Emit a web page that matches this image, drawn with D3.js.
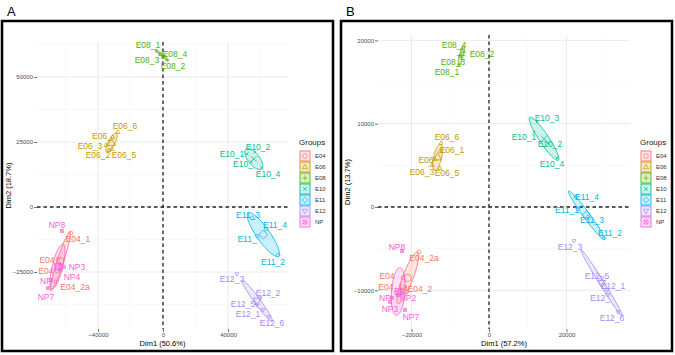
<!DOCTYPE html>
<html>
<head>
<meta charset="utf-8">
<script src="https://cdnjs.cloudflare.com/ajax/libs/d3/7.8.5/d3.min.js"></script>
<style>
body { margin: 0; background: #fff; }
svg { display: block; font-family: "Liberation Sans", Arial, sans-serif; }
</style>
</head>
<body>
<svg id="chart" width="675" height="355"></svg>
<script>
var groups = ["E04", "E06", "E08", "E10", "E11", "E12", "NP"];
var groupColors = ["#F8766D", "#C49A00", "#53B400", "#00C094", "#00B6EB", "#A58AFF", "#FB61D7"];
var groupShapes = ["circle", "triangle", "plus", "cross", "diamond", "triangleDown", "squareCross"];

var samples = ["E04_1", "E04_1a", "E04_2", "E04_2a",
  "E06_1", "E06_2", "E06_3", "E06_5", "E06_6",
  "E08_1", "E08_2", "E08_3", "E08_4",
  "E10_1", "E10_2", "E10_3", "E10_4",
  "E11_1", "E11_2", "E11_3", "E11_4",
  "E12_1", "E12_2", "E12_3", "E12_5", "E12_6",
  "NP1", "NP2", "NP3", "NP4", "NP7", "NP8"];

// panel A
var dim1A = [-56600, -64600, -65200, -65800,
  -30800, -33200, -35100, -31400, -27700,
  -4000, 2500, -2000, 1000,
  51700, 56600, 54200, 60900,
  57800, 70800, 54800, 63400,
  61500, 59700, 45500, 57800, 65200,
  -69000, -63500, -61000, -63000, -70800, -62200];
var dim2A = [-10000, -20000, -24600, -28800,
  26900, 21900, 23800, 22300, 28800,
  60000, 56500, 59000, 58000,
  20400, 21200, 17300, 15000,
  -11200, -18500, -4200, -8500,
  -39600, -35000, -25800, -37700, -42300,
  -28100, -22000, -23000, -24000, -31200, -9200];
var labelA = ["E04_1", "E04", "E04", "E04_2a",
  "E06_", "E06_2", "E06_3", "E06_5", "E06_6",
  "E08_1", "E08_2", "E08_3", "E08_4",
  "E10_1", "E10_2", "E10_", "E10_4",
  "E11_", "E11_2", "E11_3", "E11_4",
  "E12_1", "E12_2", "E12_3", "E12_5", "E12_6",
  "NP", "", "NP3", "NP4", "NP7", "NP8"];
var labelDim1A = [-52310, -71380, -72000, -54150,
  -37540, -40000, -44920, -24000, -23390,
  -9230, 6150, -9850, 7380,
  42460, 58460, 49230, 64620,
  51690, 67690, 52310, 68920,
  52310, 64620, 42460, 49230, 67080,
  -72000, -63500, -52920, -56000, -72000, -65230];
var labelDim2A = [-12310, -20380, -24620, -30770,
  27310, 20000, 23460, 20000, 31150,
  62300, 54230, 56540, 58850,
  20380, 23080, 16540, 12690,
  -12310, -21150, -3080, -6920,
  -41150, -33080, -27690, -37310, -44620,
  -28460, -22000, -23080, -26920, -34620, -6920];
var xTicksA = [-40000, 0, 40000];
var yTicksA = [-25000, 0, 25000, 50000];
var xExtentA = [-77500, 76900];
var yExtentA = [-46920, 63460];

// panel B
var dim1B = [-22190, -22450, -21160, -18060,
  -12650, -13940, -14710, -12650, -12390,
  -7740, -6450, -7480, -6970,
  11610, 15230, 12390, 17550,
  22970, 29680, 25550, 22450,
  30460, 30710, 21940, 29170, 33300,
  -25030, -22450, -25550, -23500, -21680, -22450];
var dim2B = [-8520, -9960, -10200, -5400,
  6720, 5760, 5040, 4680, 7680,
  17050, 18600, 18130, 18970,
  9000, 7680, 10200, 5880,
  -240, -3720, -1200, 1200,
  -9960, -10560, -4080, -8520, -12600,
  -10920, -10320, -11400, -10600, -12360, -5280];
var labelB = ["E04", "E04_1a", "E04_2", "E04_2a",
  "E06_1", "E06", "E06_3", "E06_5", "E06_6",
  "E08_1", "E08_2", "E08_3", "E08_4",
  "E10_1", "E10_2", "E10_3", "E10_4",
  "E11_1", "E11_2", "E11_3", "E11_4",
  "E12_1", "E12_", "E12_3", "E12_5", "E12_6",
  "NP", "NP2", "NP3", "", "NP7", "NP8"];
var labelDim1B = [-26330, -24780, -17810, -16780,
  -9550, -16260, -17290, -10840, -10840,
  -10840, -1810, -9290, -9030,
  9030, 15740, 14970, 16260,
  20130, 31230, 26580, 25290,
  32000, 28650, 20910, 27870, 31750,
  -26840, -20910, -25550, -23500, -20130, -23750];
var labelDim2B = [-8280, -9600, -9840, -6120,
  6840, 5640, 4200, 4080, 8400,
  16210, 18370, 17410, 19450,
  8400, 7560, 10680, 5160,
  -360, -3120, -1560, 1200,
  -9480, -10920, -4800, -8280, -13330,
  -10920, -10920, -12250, -10600, -13210, -4800];
var xTicksB = [-20000, 0, 20000];
var yTicksB = [-10000, 0, 10000, 20000];
var xExtentB = [-28650, 36390];
var yExtentB = [-14650, 20650];

var svg = d3.select("#chart");

function groupOf(name) {
  return name.split("_")[0].indexOf("NP") === 0 ? "NP" : name.split("_")[0];
}

function shapePath(type, r) {
  var p = d3.path();
  if (type == "circle") {
    p.arc(0, 0, r, 0, 2 * Math.PI);
  } else if (type == "triangle" || type == "triangleDown") {
    var s = type == "triangle" ? 1 : -1;
    p.moveTo(0, -s * r * 1.2);
    p.lineTo(r * 1.1, s * r * 0.75);
    p.lineTo(-r * 1.1, s * r * 0.75);
    p.closePath();
  } else if (type == "plus") {
    p.moveTo(-r * 1.1, 0); p.lineTo(r * 1.1, 0);
    p.moveTo(0, -r * 1.1); p.lineTo(0, r * 1.1);
  } else if (type == "cross") {
    p.moveTo(-r * 0.8, -r * 0.8); p.lineTo(r * 0.8, r * 0.8);
    p.moveTo(-r * 0.8, r * 0.8); p.lineTo(r * 0.8, -r * 0.8);
  } else if (type == "diamond") {
    p.moveTo(0, -r * 1.2); p.lineTo(r * 1.2, 0);
    p.lineTo(0, r * 1.2); p.lineTo(-r * 1.2, 0);
    p.closePath();
  } else {
    var q = r * 0.85;
    p.rect(-q, -q, 2 * q, 2 * q);
    p.moveTo(-q, -q); p.lineTo(q, q);
    p.moveTo(-q, q); p.lineTo(q, -q);
  }
  return p.toString();
}

// confidence ellipse around the group mean
function ellipsePoints(xs, ys) {
  var n = xs.length;
  var mx = d3.mean(xs), my = d3.mean(ys);
  var sxx = d3.sum(xs, function(v) { return (v - mx) * (v - mx); }) / (n - 1);
  var syy = d3.sum(ys, function(v) { return (v - my) * (v - my); }) / (n - 1);
  var sxy = d3.sum(xs, function(v, i) { return (v - mx) * (ys[i] - my); }) / (n - 1);
  var a = Math.sqrt(sxx), b = sxy / a, d = Math.sqrt(Math.max(syy - b * b, 0));
  var r = 1.15 * Math.sqrt(5.991 / n);
  return d3.range(0, 121).map(function(i) {
    var t = 2 * Math.PI * i / 120;
    return [mx + r * a * Math.cos(t), my + r * (b * Math.cos(t) + d * Math.sin(t))];
  });
}

function minorTicks(ticks, extent) {
  var step = ticks[1] - ticks[0], out = [];
  for (var v = ticks[0] - step / 2; v >= extent[0]; v -= step) out.push(v);
  for (var w = ticks[0] + step / 2; w <= extent[1]; w += step) out.push(w);
  return out;
}

function drawPanel(cfg) {
  var x = d3.scaleLinear().domain(cfg.xExtent).range([cfg.left, cfg.right]);
  var y = d3.scaleLinear().domain(cfg.yExtent).range([cfg.bottom, cfg.top]);
  var g = svg.append("g");

  // outer frame and panel letter
  g.append("rect")
    .attr("x", cfg.frame[0]).attr("y", cfg.frame[1])
    .attr("width", cfg.frame[2]).attr("height", cfg.frame[3])
    .style("fill", "none").style("stroke", "#000").style("stroke-width", 2.5);
  g.append("text").attr("x", cfg.frame[0] + 5).attr("y", 16)
    .style("font-size", "13px").text(cfg.letter);

  // grid
  g.selectAll("line.vminor").data(minorTicks(cfg.xTicks, cfg.xExtent)).enter().append("line")
    .attr("x1", x).attr("x2", x).attr("y1", cfg.top).attr("y2", cfg.bottom)
    .style("stroke", "#f2f2f2").style("stroke-width", 0.5);
  g.selectAll("line.hminor").data(minorTicks(cfg.yTicks, cfg.yExtent)).enter().append("line")
    .attr("y1", y).attr("y2", y).attr("x1", cfg.left).attr("x2", cfg.right)
    .style("stroke", "#f2f2f2").style("stroke-width", 0.5);
  g.selectAll("line.vmajor").data(cfg.xTicks).enter().append("line")
    .attr("x1", x).attr("x2", x).attr("y1", cfg.top).attr("y2", cfg.bottom)
    .style("stroke", "#e6e6e6").style("stroke-width", 0.8);
  g.selectAll("line.hmajor").data(cfg.yTicks).enter().append("line")
    .attr("y1", y).attr("y2", y).attr("x1", cfg.left).attr("x2", cfg.right)
    .style("stroke", "#e6e6e6").style("stroke-width", 0.8);

  // axes
  var xAxis = g.append("g").attr("transform", "translate(0," + cfg.bottom + ")")
    .call(d3.axisBottom(x).tickValues(cfg.xTicks).tickSize(3).tickPadding(1).tickFormat(d3.format("d")));
  var yAxis = g.append("g").attr("transform", "translate(" + cfg.left + ",0)")
    .call(d3.axisLeft(y).tickValues(cfg.yTicks).tickSize(3).tickPadding(1).tickFormat(d3.format("d")));
  [xAxis, yAxis].forEach(function(ax) {
    ax.select(".domain").remove();
    ax.selectAll("line").style("stroke", "#333").style("stroke-width", 0.7);
    ax.selectAll("text").style("font-size", "6px").style("fill", "#4d4d4d")
      .style("font-family", "\"Liberation Sans\", Arial, sans-serif");
  });

  g.append("text").attr("x", (cfg.left + cfg.right) / 2).attr("y", 346)
    .attr("text-anchor", "middle").style("font-size", "7.5px").text(cfg.xTitle);
  g.append("text")
    .attr("transform", "translate(" + (cfg.frame[0] + 9) + "," + ((cfg.top + cfg.bottom) / 2) + ") rotate(-90)")
    .attr("text-anchor", "middle").style("font-size", "7.5px").text(cfg.yTitle);

  // zero lines
  g.append("line").attr("x1", x(0)).attr("x2", x(0)).attr("y1", cfg.top).attr("y2", cfg.bottom)
    .style("stroke", "#222").style("stroke-width", 1.3).style("stroke-dasharray", "3.5,3");
  g.append("line").attr("y1", y(0)).attr("y2", y(0)).attr("x1", cfg.left).attr("x2", cfg.right)
    .style("stroke", "#222").style("stroke-width", 1.3).style("stroke-dasharray", "3.5,3");

  var rows = samples.map(function(s, i) {
    return { name: s, group: groupOf(s), d1: cfg.dim1[i], d2: cfg.dim2[i],
      label: cfg.labels[i], l1: cfg.lab1[i], l2: cfg.lab2[i] };
  });

  var line = d3.line().x(function(p) { return x(p[0]); }).y(function(p) { return y(p[1]); });

  groups.forEach(function(grp, gi) {
    var sub = rows.filter(function(r) { return r.group == grp; });
    var xs = sub.map(function(r) { return r.d1; });
    var ys = sub.map(function(r) { return r.d2; });
    var col = groupColors[gi];

    g.append("path").datum(ellipsePoints(xs, ys)).attr("d", line)
      .style("fill", col).style("fill-opacity", 0.2)
      .style("stroke", col).style("stroke-width", 0.9);

    g.selectAll("path.pt" + grp).data(sub).enter().append("path")
      .attr("transform", function(r) { return "translate(" + x(r.d1) + "," + y(r.d2) + ")"; })
      .attr("d", shapePath(groupShapes[gi], 1.8))
      .style("fill", "none").style("stroke", col).style("stroke-width", 0.7);

    g.append("path")
      .attr("transform", "translate(" + x(d3.mean(xs)) + "," + y(d3.mean(ys)) + ")")
      .attr("d", shapePath(groupShapes[gi], 3.6))
      .style("fill", "none").style("stroke", col).style("stroke-width", 0.8);

    g.selectAll("text.lab" + grp).data(sub.filter(function(r) { return r.label; })).enter().append("text")
      .attr("x", function(r) { return x(r.l1); })
      .attr("y", function(r) { return y(r.l2); })
      .attr("dy", "0.35em").attr("text-anchor", "middle")
      .style("font-size", "8.5px").style("fill", col)
      .text(function(r) { return r.label; });
  });

  // legend
  var lg = g.append("g").attr("transform", "translate(" + cfg.legend[0] + "," + cfg.legend[1] + ")");
  lg.append("text").attr("x", -1).attr("y", 0).style("font-size", "8px").style("fill", "#222").text("Groups");
  groups.forEach(function(grp, gi) {
    var ky = 6 + gi * 11;
    lg.append("rect").attr("x", 0).attr("y", ky).attr("width", 10).attr("height", 10)
      .style("fill", groupColors[gi]).style("fill-opacity", 0.2)
      .style("stroke", groupColors[gi]).style("stroke-width", 0.9);
    lg.append("path").attr("transform", "translate(5," + (ky + 5) + ")")
      .attr("d", shapePath(groupShapes[gi], 2.4))
      .style("fill", "none").style("stroke", groupColors[gi]).style("stroke-width", 0.7);
    lg.append("text").attr("x", 15).attr("y", ky + 5).attr("dy", "0.35em")
      .style("font-size", "6px").style("fill", "#333").text(grp);
  });
}

drawPanel({
  letter: "A", frame: [2, 21, 331, 330],
  left: 37, right: 288, top: 42, bottom: 329,
  xExtent: xExtentA, yExtent: yExtentA, xTicks: xTicksA, yTicks: yTicksA,
  dim1: dim1A, dim2: dim2A, labels: labelA, lab1: labelDim1A, lab2: labelDim2A,
  xTitle: "Dim1 (50.6%)", yTitle: "Dim2 (18.7%)", legend: [300, 145]
});

drawPanel({
  letter: "B", frame: [341, 21, 331, 330],
  left: 378, right: 630, top: 35, bottom: 329,
  xExtent: xExtentB, yExtent: yExtentB, xTicks: xTicksB, yTicks: yTicksB,
  dim1: dim1B, dim2: dim2B, labels: labelB, lab1: labelDim1B, lab2: labelDim2B,
  xTitle: "Dim1 (57.2%)", yTitle: "Dim2 (13.7%)", legend: [641, 145]
});
</script>
</body>
</html>
